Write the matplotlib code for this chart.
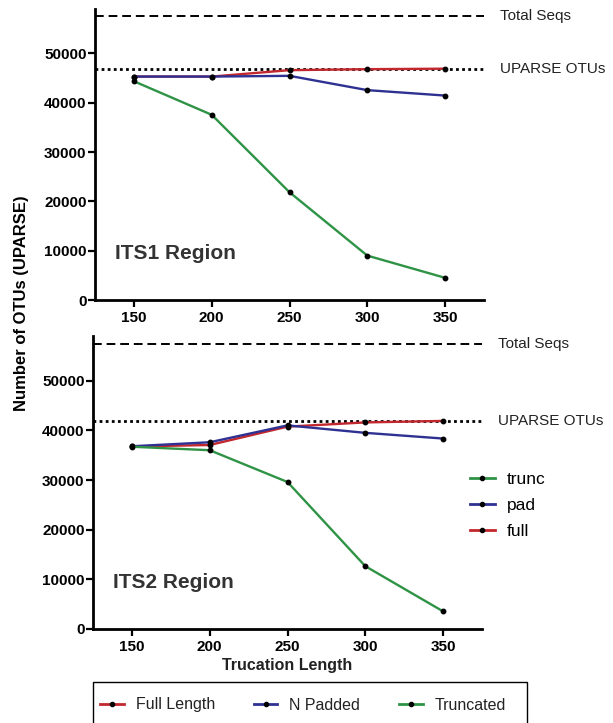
import numpy as np
import matplotlib.pyplot as plt
from matplotlib.lines import Line2D
from matplotlib.patches import Rectangle

plt.rcParams['font.family'] = ['Liberation Sans', 'DejaVu Sans']

# data
lengths = [150, 200, 250, 300, 350]

its1_full = [45300, 45300, 46600, 46800, 46900]
its1_pad = [45300, 45300, 45450, 42550, 41450]
its1_trunc = [44350, 37550, 21850, 9000, 4500]
its1_total = 57500
its1_uparse = 46900

its2_full = [36750, 37050, 40750, 41600, 41900]
its2_pad = [36800, 37600, 41000, 39500, 38350]
its2_trunc = [36700, 36000, 29600, 12650, 3550]
its2_total = 57300
its2_uparse = 41900

region_names = ['ITS1 Region', 'ITS2 Region']
yticks = [0, 10000, 20000, 30000, 40000, 50000]

RED = '#c1272d'
BLUE = '#2e3192'
GREEN = '#2f9346'

fig = plt.figure(figsize=(6.13, 7.23), dpi=100)
ax1 = fig.add_axes([95/613, 1-300/723, 389/613, 291/723])
ax2 = fig.add_axes([93/613, 1-629/723, 389/613, 293/723])

panels = [
    (ax1, its1_full, its1_pad, its1_trunc, its1_total, its1_uparse),
    (ax2, its2_full, its2_pad, its2_trunc, its2_total, its2_uparse),
]

for i, (ax, full, pad, trunc, total, upar) in enumerate(panels):
    kw = dict(lw=1.7, marker='o', ms=3.2, mfc='black', mec='black', zorder=3)
    ax.plot(lengths, full, color=RED, **kw)
    ax.plot(lengths, pad, color=BLUE, **kw)
    ax.plot(lengths, trunc, color=GREEN, **kw)
    ax.axhline(total, color='black', ls=(0, (4.5, 2.5)), lw=1.4, zorder=2)
    ax.axhline(upar, color='black', ls=(0, (1, 1.2)), lw=2.0, zorder=2)
    ax.text(1.04, total, 'Total Seqs', transform=ax.get_yaxis_transform(),
            va='center', ha='left', fontsize=11, color='#222222')
    ax.text(1.04, upar, 'UPARSE OTUs', transform=ax.get_yaxis_transform(),
            va='center', ha='left', fontsize=11, color='#222222')
    ax.text(0.052, 0.16, region_names[i], transform=ax.transAxes,
            fontsize=15, fontweight='bold', color='#333333', va='center')

    ax.set_xlim(125, 375)
    ax.set_ylim(0, 59000)
    ax.set_xticks(lengths)
    ax.set_yticks(yticks)
    ax.set_xticklabels([str(v) for v in lengths], fontsize=11, fontweight='bold')
    ax.set_yticklabels([str(v) for v in yticks], fontsize=11, fontweight='bold')
    ax.tick_params(direction='out', length=5, width=1.6)
    ax.tick_params(axis='x', pad=3)
    ax.tick_params(axis='y', pad=1)
    for s in ['top', 'right']:
        ax.spines[s].set_visible(False)
    for s in ['left', 'bottom']:
        ax.spines[s].set_linewidth(2)

ax2.set_xlabel('Trucation Length', fontsize=11.5, fontweight='bold',
               color='#222222', labelpad=3)
fig.text(22/613, 1-303/723, 'Number of OTUs (UPARSE)', rotation=90,
         fontsize=12, fontweight='bold', ha='center', va='center')

# small legend inside the lower panel
def handle(c):
    return Line2D([], [], color=c, lw=2, marker='o', ms=3, mfc='black', mec='black')

ax2.legend([handle(GREEN), handle(BLUE), handle(RED)], ['trunc', 'pad', 'full'],
           loc='upper left', bbox_to_anchor=(0.97, 0.535), frameon=False,
           fontsize=12.5, handlelength=1.4, handletextpad=0.7,
           labelspacing=0.62, borderpad=0, borderaxespad=0, numpoints=1)

# legend at the bottom, its box runs off the lower edge
fig.patches.append(Rectangle((93/613, -0.02), 434/613, 0.02 + 1 - 682/723,
                             transform=fig.transFigure, fill=False,
                             edgecolor='black', lw=1.0))
leg = fig.legend([handle(RED), handle(BLUE), handle(GREEN)],
                 ['Full Length', 'N Padded', 'Truncated'],
                 loc='center left', bbox_to_anchor=(100/613, 1-705/723),
                 ncol=3, fontsize=11.5, handlelength=1.5, handletextpad=0.75,
                 columnspacing=2.4, borderpad=0, borderaxespad=0,
                 frameon=False, numpoints=1)
for t in leg.get_texts():
    t.set_color('#222222')

fig.savefig('out.png', dpi=100)
